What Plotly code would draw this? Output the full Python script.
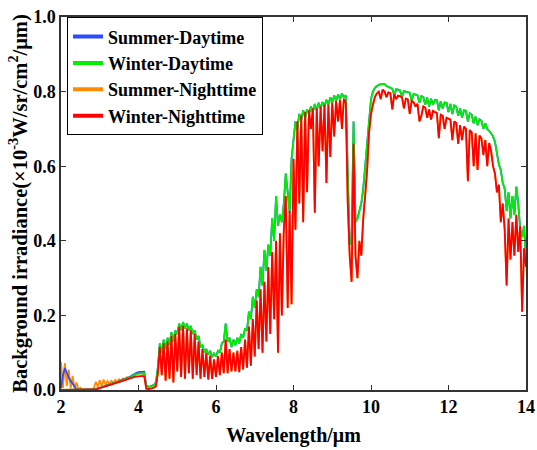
import numpy as np
import plotly.graph_objects as go

# Wavelength sample grid (µm), 2.00 ... 14.00 every 0.05 µm
wavelength = np.round(np.arange(2.0, 14.0 + 1e-9, 0.05), 2)

# ---- Winter-Nighttime (red) ----
winter_night = (
    [0, 0, 0, 0, 0, 0, 0, 0, 0, 0, 0, 0, 0, 0, 0, 0, 0, 0.001, 0.002, 0.003]  # 2.x
    + [0.004, 0.006, 0.008, 0.010, 0.012, 0.014, 0.015, 0.017, 0.018, 0.020,
       0.021, 0.023, 0.025, 0.026, 0.028, 0.030, 0.031, 0.033, 0.035, 0.036]  # 3.x
    + [0.037, 0.038, 0.038, 0.036, 0.004, 0.002, 0.003, 0.004, 0.006, 0.010,
       0.045, 0.115, 0.040, 0.125, 0.025, 0.130, 0.030, 0.145, 0.020, 0.150]  # 4.x
    + [0.050, 0.170, 0.035, 0.172, 0.030, 0.165, 0.045, 0.160, 0.030, 0.150,
       0.040, 0.130, 0.030, 0.110, 0.035, 0.100, 0.028, 0.092, 0.030, 0.082]  # 5.x
    + [0.035, 0.090, 0.040, 0.100, 0.045, 0.135, 0.045, 0.110, 0.050, 0.100,
       0.050, 0.105, 0.048, 0.115, 0.055, 0.135, 0.060, 0.170, 0.065, 0.190]  # 6.x
    + [0.090, 0.240, 0.110, 0.270, 0.100, 0.290, 0.130, 0.330, 0.150, 0.370,
       0.190, 0.400, 0.100, 0.420, 0.200, 0.430, 0.520, 0.220, 0.480, 0.230]  # 7.x
    + [0.620, 0.430, 0.720, 0.500, 0.735, 0.450, 0.745, 0.530, 0.750, 0.700,
       0.755, 0.475, 0.755, 0.600, 0.760, 0.640, 0.765, 0.555, 0.765, 0.625]  # 8.x
    + [0.770, 0.680, 0.775, 0.720, 0.778, 0.700, 0.780, 0.770, 0.500, 0.360,
       0.290, 0.660, 0.360, 0.300, 0.400, 0.360, 0.460, 0.520, 0.590, 0.690]  # 9.x
    + [0.740, 0.765, 0.785, 0.795, 0.800, 0.780, 0.805, 0.800, 0.785, 0.798,
       0.796, 0.752, 0.793, 0.780, 0.789, 0.787, 0.785, 0.755, 0.781, 0.779]  # 10.x
    + [0.740, 0.775, 0.772, 0.760, 0.767, 0.720, 0.735, 0.760, 0.757, 0.730,
       0.752, 0.725, 0.748, 0.745, 0.743, 0.675, 0.738, 0.735, 0.700, 0.730]  # 11.x
    + [0.728, 0.725, 0.670, 0.720, 0.716, 0.660, 0.710, 0.670, 0.706, 0.700,
       0.560, 0.697, 0.690, 0.600, 0.688, 0.590, 0.682, 0.675, 0.630, 0.670]  # 12.x
    + [0.600, 0.662, 0.640, 0.600, 0.580, 0.530, 0.550, 0.450, 0.500, 0.430,
       0.280, 0.460, 0.350, 0.450, 0.360, 0.470, 0.370, 0.440, 0.210, 0.380]  # 13.x
    + [0.330]  # 14.0
)

# ---- Winter-Daytime (green) ----
winter_day = (
    [0, 0, 0, 0, 0, 0, 0, 0, 0, 0, 0, 0, 0, 0, 0, 0, 0, 0.001, 0.002, 0.003]  # 2.x
    + [0.005, 0.007, 0.009, 0.011, 0.013, 0.015, 0.016, 0.018, 0.019, 0.021,
       0.022, 0.024, 0.026, 0.027, 0.029, 0.031, 0.034, 0.038, 0.041, 0.043]  # 3.x
    + [0.044, 0.045, 0.046, 0.045, 0.010, 0.008, 0.009, 0.011, 0.013, 0.020,
       0.060, 0.125, 0.100, 0.135, 0.110, 0.140, 0.120, 0.155, 0.130, 0.160]  # 4.x
    + [0.150, 0.178, 0.160, 0.182, 0.165, 0.178, 0.160, 0.172, 0.150, 0.160,
       0.135, 0.145, 0.115, 0.120, 0.100, 0.110, 0.095, 0.105, 0.088, 0.098]  # 5.x
    + [0.090, 0.105, 0.100, 0.125, 0.130, 0.178, 0.130, 0.140, 0.115, 0.135,
       0.120, 0.140, 0.125, 0.150, 0.140, 0.165, 0.160, 0.210, 0.190, 0.250]  # 6.x
    + [0.220, 0.270, 0.250, 0.330, 0.280, 0.375, 0.320, 0.390, 0.360, 0.460,
       0.400, 0.520, 0.440, 0.470, 0.450, 0.500, 0.580, 0.530, 0.475, 0.620]  # 7.x
    + [0.670, 0.720, 0.700, 0.740, 0.725, 0.750, 0.730, 0.752, 0.740, 0.760,
       0.745, 0.767, 0.750, 0.770, 0.755, 0.772, 0.760, 0.778, 0.765, 0.785]  # 8.x
    + [0.770, 0.790, 0.775, 0.792, 0.780, 0.795, 0.785, 0.790, 0.580, 0.390,
       0.400, 0.720, 0.450, 0.460, 0.480, 0.500, 0.540, 0.600, 0.660, 0.740]  # 9.x
    + [0.780, 0.800, 0.810, 0.815, 0.818, 0.820, 0.820, 0.820, 0.815, 0.812,
       0.810, 0.808, 0.790, 0.806, 0.805, 0.803, 0.785, 0.802, 0.800, 0.798]  # 10.x
    + [0.797, 0.775, 0.794, 0.792, 0.790, 0.770, 0.788, 0.786, 0.765, 0.784,
       0.760, 0.781, 0.765, 0.778, 0.777, 0.750, 0.774, 0.755, 0.771, 0.770]  # 11.x
    + [0.745, 0.767, 0.740, 0.763, 0.760, 0.735, 0.755, 0.730, 0.750, 0.748,
       0.720, 0.742, 0.738, 0.715, 0.733, 0.710, 0.726, 0.722, 0.700, 0.715]  # 12.x
    + [0.700, 0.695, 0.688, 0.680, 0.665, 0.630, 0.605, 0.590, 0.555, 0.540,
       0.480, 0.530, 0.460, 0.520, 0.470, 0.545, 0.500, 0.430, 0.410, 0.440]  # 13.x
    + [0.350]  # 14.0
)

# ---- Summer-Daytime (blue): short-wave part differs, thermal part overlaps winter-day ----
summer_day_sw = (
    [0.005, 0.040, 0.059, 0.045, 0.033, 0.024, 0.017, 0.008, 0.002, 0,
     0, 0, 0, 0, 0, 0, 0, 0.002, 0.003, 0.004]  # 2.x
    + [0.006, 0.008, 0.010, 0.012, 0.014, 0.016, 0.017, 0.019, 0.020, 0.022,
       0.023, 0.025, 0.027, 0.028, 0.030, 0.032, 0.036, 0.040, 0.044, 0.046]  # 3.x
    + [0.048, 0.049, 0.050, 0.049, 0.012, 0.009, 0.010, 0.012, 0.014, 0.021]  # 4.00-4.45
)
summer_day = summer_day_sw + winter_day[len(summer_day_sw):]

# ---- Summer-Nighttime (orange): short-wave part differs, thermal part overlaps winter-night ----
summer_night_sw = (
    [0.075, 0.005, 0.072, 0.010, 0.055, 0.005, 0.038, 0.004, 0.020, 0.002,
     0.006, 0, 0, 0, 0, 0, 0, 0.006, 0.022, 0.008]  # 2.x
    + [0.026, 0.010, 0.028, 0.014, 0.024, 0.016, 0.025, 0.019, 0.027, 0.022,
       0.029, 0.025, 0.031, 0.029, 0.034, 0.033, 0.037, 0.037, 0.040, 0.042]  # 3.x
    + [0.044, 0.045, 0.044, 0.042, 0.004, 0.003, 0.004, 0.005, 0.007, 0.011]  # 4.00-4.45
)
summer_night = summer_night_sw + winter_night[len(summer_night_sw):]

names = ["Summer-Daytime", "Winter-Daytime", "Summer-Nighttime", "Winter-Nighttime"]
colors = ["#2a4bff", "#00ee00", "#ff8c00", "#ff0000"]
values = [summer_day, winter_day, summer_night, winter_night]
draw_order = [2, 0, 1, 3]  # orange, blue, green, red (red on top)

FONT = "Liberation Serif, Times New Roman, serif"

fig = go.Figure()
for i in draw_order:
    fig.add_trace(go.Scatter(
        x=wavelength, y=values[i], mode="lines",
        line=dict(color=colors[i], width=1.8),
        showlegend=False, hoverinfo="skip",
    ))
for i in range(4):
    fig.add_trace(go.Scatter(
        x=[None], y=[None], mode="lines",
        line=dict(color=colors[i], width=4),
        name=names[i], showlegend=True,
    ))

axis_common = dict(
    showgrid=False, zeroline=False, automargin=False,
    showline=True, linecolor="#333333", linewidth=1.5, mirror="ticks",
    ticks="inside", ticklen=5, tickwidth=1.2, tickcolor="#333333",
    ticklabeloverflow="allow",
    tickfont=dict(family=FONT, size=18, color="black", weight="bold"),
)

fig.update_layout(
    width=537, height=450,
    margin=dict(l=61, r=11, t=17, b=60),
    paper_bgcolor="white", plot_bgcolor="white",
    font=dict(family=FONT, color="black"),
    xaxis=dict(
        range=[2, 14], tickvals=[2, 4, 6, 8, 10, 12, 14],
        title=dict(text="Wavelength/μm", standoff=12,
                   font=dict(family=FONT, size=20, color="black", weight="bold")),
        **axis_common,
    ),
    yaxis=dict(
        range=[0, 1.0], tickvals=[0, 0.2, 0.4, 0.6, 0.8, 1.0], tickformat=".1f",
        title=dict(text="Background irradiance(×10<sup>-3</sup>W/sr/cm<sup>2</sup>/μm)",
                   standoff=0,
                   font=dict(family=FONT, size=20.5, color="black", weight="bold")),
        **axis_common,
    ),
    legend=dict(
        x=0.013, y=0.999, xanchor="left", yanchor="top",
        bgcolor="white", bordercolor="black", borderwidth=1,
        font=dict(family=FONT, size=18, color="black", weight="bold"),
        tracegroupgap=0,
    ),
)

# remove the default page margin so the 537x450 figure fills the window exactly
fig.write_html(
    "out.html",
    config={"displayModeBar": False},
    post_script="document.body.style.margin='0px';document.body.style.overflow='hidden';",
)
